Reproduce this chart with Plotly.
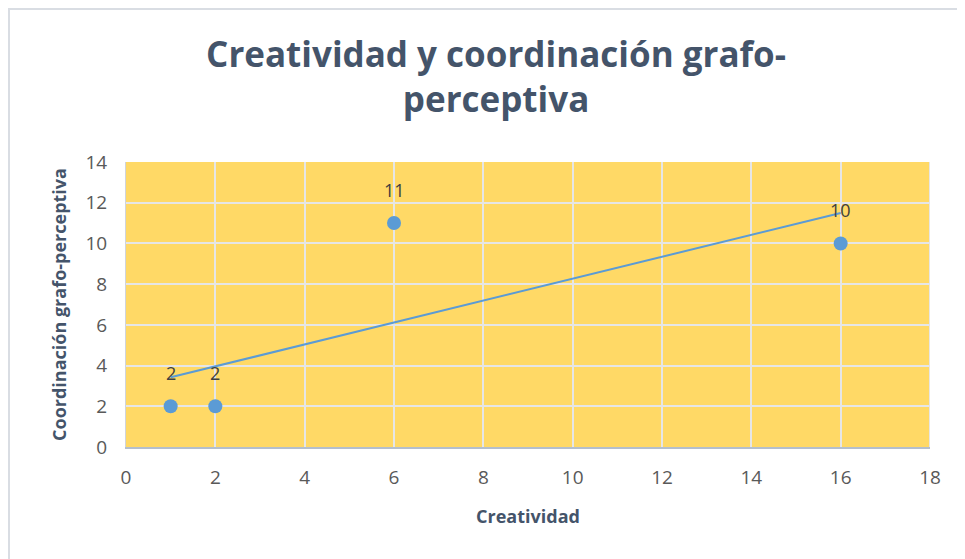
import numpy as np
import plotly.graph_objects as go

creatividad = [1, 2, 6, 16]
coordinacion = [2, 2, 11, 10]
x_ticks = [0, 2, 4, 6, 8, 10, 12, 14, 16, 18]
y_ticks = [0, 2, 4, 6, 8, 10, 12, 14]

title_text = "Creatividad y coordinación grafo-<br>perceptiva"
x_title = "Creatividad"
y_title = "Coordinación grafo-perceptiva"

slope, intercept = np.polyfit(creatividad, coordinacion, 1)
trend_x = [min(creatividad), max(creatividad)]
trend_y = [slope * v + intercept for v in trend_x]

FONT = "Open Sans"
W, H = 957, 551
L, R, T, B = 118, 35, 154, 112
PW, PH = W - L - R, H - T - B

fig = go.Figure()
fig.add_trace(go.Scatter(x=trend_x, y=trend_y, mode="lines",
                         line=dict(color="#5B9BD5", width=2), hoverinfo="skip"))
fig.add_trace(go.Scatter(x=creatividad, y=coordinacion, mode="markers",
                         marker=dict(color="#5B9BD5", size=14)))
for xv, yv in zip(creatividad, coordinacion):
    fig.add_annotation(x=xv, y=yv, text=str(yv), showarrow=False, yshift=33,
                       font=dict(family=FONT, size=18, color="#404040"))

fig.update_layout(
    width=W, height=H,
    margin=dict(l=L, r=R, t=T, b=B),
    paper_bgcolor="white",
    plot_bgcolor="#FFD966",
    showlegend=False,
    title=dict(text=title_text, x=0.51, xanchor="center", y=0.893, yanchor="middle",
               font=dict(family=FONT, size=35, color="#44546A", weight="bold")),
    xaxis=dict(range=[0, 18], tickvals=x_ticks, showgrid=True, gridcolor="#E6E6E6", gridwidth=2,
               zeroline=False, showline=True, linecolor="#B4BFCC", linewidth=2, mirror=False,
               ticks="", ticklabelstandoff=12, tickfont=dict(family=FONT, size=19, color="#595959"),
               title=dict(text=x_title, font=dict(family=FONT, size=18, color="#44546A", weight="bold"),
                          standoff=22)),
    yaxis=dict(range=[0, 14], tickvals=y_ticks, showgrid=True, gridcolor="#E6E6E6", gridwidth=2,
               zeroline=False, showline=True, linecolor="#D0D4DA", linewidth=1,
               ticks="", ticklabelstandoff=14, tickfont=dict(family=FONT, size=19, color="#595959"),
               title=dict(text=y_title, font=dict(family=FONT, size=18, color="#44546A", weight="bold"),
                          standoff=14)),
)
fig.add_shape(type="line", xref="x", yref="y", x0=18, x1=18, y0=0, y1=14,
              line=dict(color="#E6E6E6", width=2))
fig.add_shape(type="rect", xref="paper", yref="paper",
              x0=(1 - L) / PW, x1=(W + 20 - L) / PW,
              y0=-(B + 20) / PH, y1=1 + (T - 1) / PH,
              line=dict(color="#D9DDE3", width=2), layer="below")
fig.write_html("out.html")
